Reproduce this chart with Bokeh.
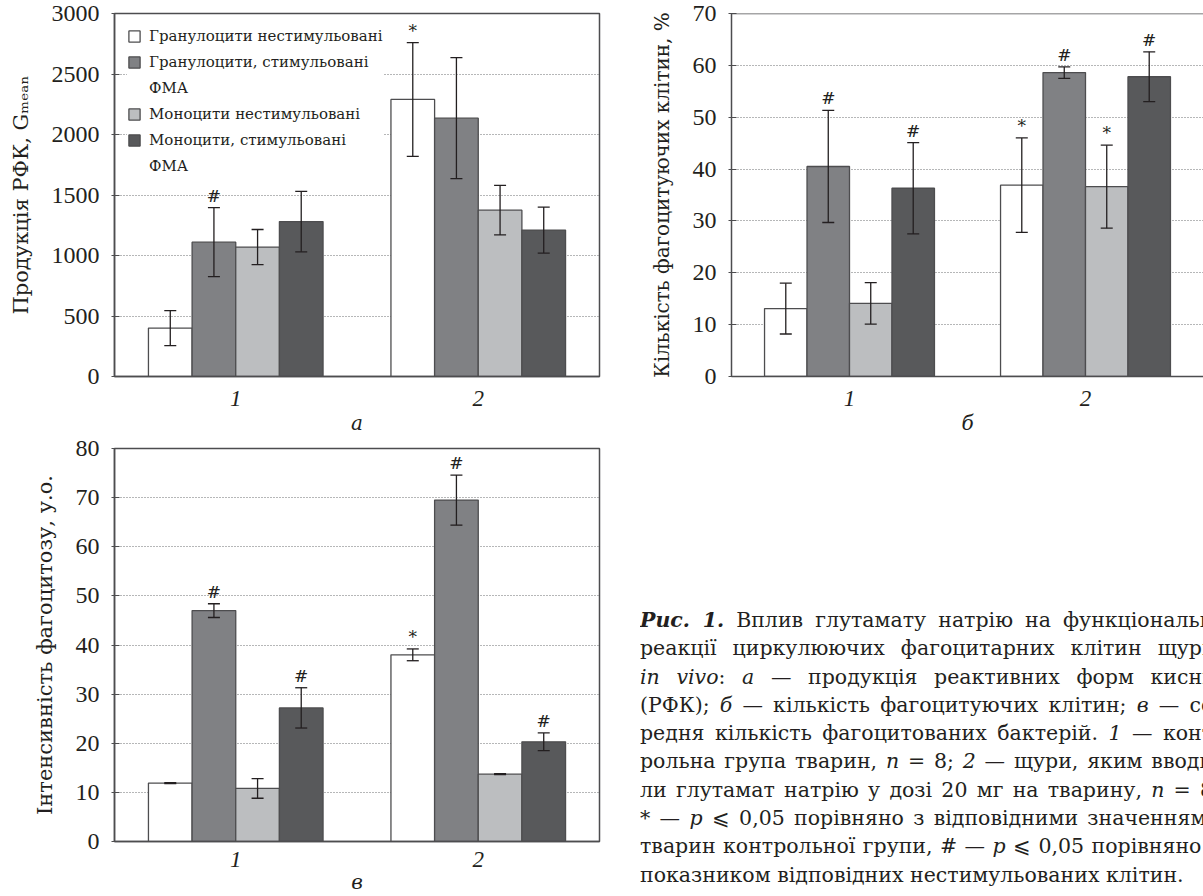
from bokeh.plotting import figure
from bokeh.models import (ColumnDataSource, Whisker, TeeHead, Legend, LegendItem,
                          Span, Div, FixedTicker, FactorRange, Range1d)
from bokeh.transform import dodge
from bokeh.layouts import row, column
from bokeh.core.properties import value
from bokeh.embed import file_html
from bokeh.resources import INLINE

SERIF = "DejaVu Serif"
DIGITS = "Liberation Serif"
INK = "#231f20"
EDGE = "#4d4d4f"

groups = ["1", "2"]
# legend text of each series (second line of a two-line label in the 2nd item)
series_labels = ["Гранулоцити нестимульовані",
                 "Гранулоцити, стимульовані",
                 "Моноцити нестимульовані",
                 "Моноцити, стимульовані"]
series_label_tail = ["", "ФМА", "", "ФМА"]
series_colors = ["#ffffff", "#808184", "#bcbec0", "#58595b"]

# ---- panel а : Продукція РФК ----
a_gran_unstim = [400, 2290]
a_gran_unstim_err = [145, 470]
a_gran_stim = [1110, 2135]
a_gran_stim_err = [285, 500]
a_mono_unstim = [1070, 1375]
a_mono_unstim_err = [145, 205]
a_mono_stim = [1280, 1210]
a_mono_stim_err = [250, 190]
a_gran_unstim_sig = ["", "*"]
a_gran_stim_sig = ["#", ""]
a_mono_unstim_sig = ["", ""]
a_mono_stim_sig = ["", ""]
a_yticks = [0, 500, 1000, 1500, 2000, 2500, 3000]

# ---- panel б : Кількість фагоцитуючих клітин ----
b_gran_unstim = [13.1, 36.9]
b_gran_unstim_err = [4.9, 9.1]
b_gran_stim = [40.5, 58.6]
b_gran_stim_err = [10.8, 1.1]
b_mono_unstim = [14.1, 36.6]
b_mono_unstim_err = [4.0, 8.0]
b_mono_stim = [36.3, 57.8]
b_mono_stim_err = [8.8, 4.8]
b_gran_unstim_sig = ["", "*"]
b_gran_stim_sig = ["#", "#"]
b_mono_unstim_sig = ["", "*"]
b_mono_stim_sig = ["#", "#"]
b_yticks = [0, 10, 20, 30, 40, 50, 60, 70]

# ---- panel в : Інтенсивність фагоцитозу ----
v_gran_unstim = [11.9, 38.0]
v_gran_unstim_err = [0.1, 1.2]
v_gran_stim = [47.0, 69.5]
v_gran_stim_err = [1.4, 5.1]
v_mono_unstim = [10.8, 13.7]
v_mono_unstim_err = [2.0, 0.1]
v_mono_stim = [27.2, 20.3]
v_mono_stim_err = [4.1, 1.8]
v_gran_unstim_sig = ["", "*"]
v_gran_stim_sig = ["#", "#"]
v_mono_unstim_sig = ["", ""]
v_mono_stim_sig = ["#", "#"]
v_yticks = [0, 10, 20, 30, 40, 50, 60, 70, 80]

OFFSETS = [-0.27, -0.09, 0.09, 0.27]
BAR_W = 0.18


def make_panel(series, yticks, ylabel, xlabel, width, height,
               b_left, b_right, b_top, b_bottom, open_right=False,
               legend=False, tick_standoff=8, xlabel_standoff=2,
               ylabel_size="21px"):
    p = figure(x_range=FactorRange(factors=groups, range_padding=0),
               y_range=Range1d(yticks[0], yticks[-1]),
               width=width, height=height, output_backend="svg",
               toolbar_location=None)
    p.min_border_left = b_left
    p.min_border_right = b_right
    p.min_border_top = b_top
    p.min_border_bottom = b_bottom
    p.background_fill_color = "white"
    p.border_fill_color = "white"

    p.xgrid.grid_line_color = None
    p.ygrid.ticker = FixedTicker(ticks=yticks)
    p.ygrid.grid_line_color = "#6d6e71"
    p.ygrid.grid_line_dash = "1 2"
    p.ygrid.grid_line_width = 1

    if open_right:
        p.outline_line_color = None
        p.add_layout(Span(location=yticks[-1], dimension="width",
                          line_color=EDGE, line_width=1.5))
    else:
        p.outline_line_color = EDGE
        p.outline_line_width = 1.5

    ya = p.yaxis[0]
    ya.ticker = FixedTicker(ticks=yticks)
    ya.axis_line_color = EDGE
    ya.axis_line_width = 1.5
    ya.major_tick_line_color = EDGE
    ya.major_tick_in = 5
    ya.major_tick_out = 3
    ya.minor_tick_line_color = None
    ya.major_label_text_font = DIGITS
    ya.major_label_text_font_size = "24px"
    ya.major_label_text_color = INK
    ya.major_label_standoff = 12
    ya.axis_label = ylabel
    ya.axis_label_text_font = SERIF
    ya.axis_label_text_font_size = ylabel_size
    ya.axis_label_text_font_style = "normal"
    ya.axis_label_text_color = INK
    ya.axis_label_standoff = 16

    xa = p.xaxis[0]
    xa.axis_line_color = EDGE
    xa.axis_line_width = 1.5
    xa.major_tick_line_color = None
    xa.minor_tick_line_color = None
    xa.major_label_text_font = DIGITS
    xa.major_label_text_font_style = "italic"
    xa.major_label_text_font_size = "23px"
    xa.major_label_text_color = INK
    xa.major_label_standoff = tick_standoff
    xa.axis_label = xlabel
    xa.axis_label_text_font = SERIF
    xa.axis_label_text_font_style = "italic"
    xa.axis_label_text_font_size = "20px"
    xa.axis_label_text_color = INK
    xa.axis_label_standoff = xlabel_standoff

    items = []
    for i, (vals, errs, sig) in enumerate(series):
        src = ColumnDataSource(dict(
            g=groups, top=vals,
            upper=[v + e for v, e in zip(vals, errs)],
            lower=[v - e for v, e in zip(vals, errs)],
            sig=sig))
        xpos = dodge("g", OFFSETS[i], range=p.x_range)
        r = p.vbar(x=xpos, top="top", width=BAR_W, source=src,
                   fill_color=series_colors[i], line_color=EDGE, line_width=1.3)
        items.append(LegendItem(label=series_labels[i], renderers=[r]))
        if series_label_tail[i]:
            # continuation line of the label: a renderer with no marks and no ink
            blank = p.vbar(x=[], top=[], width=BAR_W, fill_alpha=0, line_alpha=0)
            items.append(LegendItem(label=series_label_tail[i], renderers=[blank]))
        w = Whisker(base=xpos, upper="upper", lower="lower", source=src,
                    line_color="#231f20", line_width=1.3, level="overlay",
                    upper_head=TeeHead(size=12, line_color="#231f20", line_width=1.3),
                    lower_head=TeeHead(size=12, line_color="#231f20", line_width=1.3))
        p.add_layout(w)
        p.text(x=xpos, y="upper", text="sig", source=src,
               text_font=value(SERIF), text_font_size="17px",
               text_align="center", text_baseline="bottom", y_offset=-2,
               text_color=INK, level="overlay")

    if legend:
        lg = Legend(items=items, location="top_left")
        lg.label_text_font = SERIF
        lg.label_text_font_size = "15px"
        lg.label_text_color = INK
        lg.glyph_width = 14
        lg.glyph_height = 14
        lg.label_height = 20
        lg.label_standoff = 8
        lg.spacing = 6
        lg.padding = 5
        lg.margin = 13
        lg.border_line_color = None
        lg.background_fill_color = "white"
        lg.background_fill_alpha = 1.0
        p.add_layout(lg)
    return p


series_a = [(a_gran_unstim, a_gran_unstim_err, a_gran_unstim_sig),
            (a_gran_stim, a_gran_stim_err, a_gran_stim_sig),
            (a_mono_unstim, a_mono_unstim_err, a_mono_unstim_sig),
            (a_mono_stim, a_mono_stim_err, a_mono_stim_sig)]
series_b = [(b_gran_unstim, b_gran_unstim_err, b_gran_unstim_sig),
            (b_gran_stim, b_gran_stim_err, b_gran_stim_sig),
            (b_mono_unstim, b_mono_unstim_err, b_mono_unstim_sig),
            (b_mono_stim, b_mono_stim_err, b_mono_stim_sig)]
series_v = [(v_gran_unstim, v_gran_unstim_err, v_gran_unstim_sig),
            (v_gran_stim, v_gran_stim_err, v_gran_stim_sig),
            (v_mono_unstim, v_mono_unstim_err, v_mono_unstim_sig),
            (v_mono_stim, v_mono_stim_err, v_mono_stim_sig)]

fig_a = make_panel(series_a, a_yticks, "Продукція РФК, Gₘₑₐₙ", "а",
                   603, 440, 114, 4, 13, 64, legend=True)
fig_b = make_panel(series_b, b_yticks, "Кількість фагоцитуючих клітин, %", "б",
                   600, 440, 128, 0, 13, 64, open_right=True, ylabel_size="20px")
fig_v = make_panel(series_v, v_yticks, "Інтенсивність фагоцитозу, у.о.", "в",
                   603, 456, 114, 4, 8, 52, tick_standoff=4, xlabel_standoff=0)

caption_lines = [
    ("j", "<b><i>Рис. 1.</i></b> Вплив глутамату натрію на функціональні"),
    ("j", "реакції циркулюючих фагоцитарних клітин щурів"),
    ("j", "<i>in vivo</i>: <i>а</i> — продукція реактивних форм кисню"),
    ("j", "(РФК); <i>б</i> — кількість фагоцитуючих клітин; <i>в</i> — се-"),
    ("j", "редня кількість фагоцитованих бактерій. <i>1</i> — конт-"),
    ("j", "рольна група тварин, <i>n</i> = 8; <i>2</i> — щури, яким вводи-"),
    ("j", "ли глутамат натрію у дозі 20 мг на тварину, <i>n</i> = 8;"),
    ("j", "* — <i>p</i> ⩽ 0,05 порівняно з відповідними значеннями"),
    ("j", "тварин контрольної групи, # — <i>p</i> ⩽ 0,05 порівняно з"),
    ("l", "показником відповідних нестимульованих клітин."),
]
line_html = []
for kind, txt in caption_lines:
    align = "text-align:justify;text-align-last:justify;" if kind == "j" else "text-align:left;"
    line_html.append(
        f'<div style="{align}height:28.3px;overflow:hidden;white-space:normal;">{txt}</div>')
caption_html = (
    '<div style="margin-left:32px;margin-top:161px;width:568px;overflow:hidden;'
    f'font-family:\'{SERIF}\',serif;font-size:20.5px;line-height:28.3px;color:{INK};">'
    '<div style="width:580px;">' + "".join(line_html) + '</div></div>')
caption = Div(text=caption_html, width=600, height=456)

layout = row(column(fig_a, fig_v), column(fig_b, caption))

html = file_html(layout, INLINE, "Рис. 1")
open("out.html", "w").write(html)
